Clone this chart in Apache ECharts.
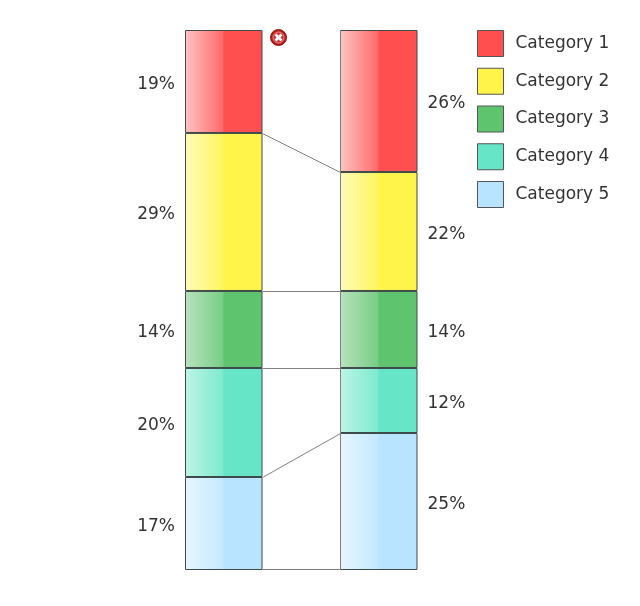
<!DOCTYPE html>
<html><head><meta charset="utf-8">
<style>html,body{margin:0;padding:0;background:#fff}#c{width:640px;height:606px}</style>
<script src="https://cdn.jsdelivr.net/npm/echarts@6/dist/echarts.min.js"></script>
</head><body><div id="c"></div>
<script>
const columns = ['Left', 'Right'];
const categories = ['Category 1', 'Category 2', 'Category 3', 'Category 4', 'Category 5'];
const leftValues = [19.07, 29.26, 14.26, 20.19, 17.22];
const rightValues = [26.30, 22.03, 14.26, 12.04, 25.37];
const colors = ['#FF4F4F', '#FFF44A', '#5EC46E', '#66E6C6', '#B8E4FF'];
const lightColors = ['#FFC4C4', '#FFFBB8', '#B8E2BE', '#BDF4E6', '#E6F6FF'];
const midColors = ['#FF6A6A', '#FFF560', '#78CE86', '#7EEACF', '#C4E9FF'];
const font = '"DejaVu Sans", Verdana, sans-serif';
const barWidth = 77.5;

const chart = echarts.init(document.getElementById('c'), null, {renderer: 'canvas'});
const series = categories.map((name, i) => ({
  name, type: 'bar', stack: 'total', barWidth, silent: true, z: 2,
  itemStyle: {
    borderColor: '#3f4a4a', borderWidth: 1,
    color: new echarts.graphic.LinearGradient(0, 0, 1, 0, [
      {offset: 0, color: lightColors[i]},
      {offset: 0.49, color: midColors[i]},
      {offset: 0.5, color: colors[i]},
      {offset: 1, color: colors[i]}
    ])
  },
  label: {show: true, fontFamily: font, fontSize: 17, color: '#333', distance: 10, offset: [0, 2.75],
    formatter: p => Math.round(p.value) + '%'},
  data: [
    {value: leftValues[i], label: {position: 'left'}},
    {value: rightValues[i], label: {position: 'right'}}
  ]
}));

// connectors between the two stacks, from cumulative values
const cumulative = categories.map((_, i) => [
  leftValues.slice(0, i + 1).reduce((a, b) => a + b, 0),
  rightValues.slice(0, i + 1).reduce((a, b) => a + b, 0)
]);
series.push({
  type: 'custom', silent: true, z: 3, coordinateSystem: 'cartesian2d',
  encode: {x: 0, y: 1},
  renderItem: (params, api) => {
    const half = barWidth / 2;
    const a = api.coord([0, api.value(0)]);
    const b = api.coord([1, api.value(1)]);
    const top = api.coord([1, 0]);
    const bottom = api.coord([1, 100]);
    const snap = y => Math.min(Math.round(y) + 0.5, bottom[1] - 0.5);
    const x1 = Math.floor(a[0] + half) + 0.5, x2 = Math.floor(b[0] - half) + 0.5;
    return {type: 'group', children: [
      {type: 'line', shape: {x1, y1: snap(a[1]), x2, y2: snap(b[1])},
        style: {stroke: '#808080', lineWidth: 1}},
      {type: 'line', shape: {x1: x2, y1: top[1], x2, y2: snap(b[1])},
        style: {stroke: '#808080', lineWidth: 1}}
    ]};
  },
  data: cumulative
});

chart.setOption({
  animation: false,
  backgroundColor: '#fff',
  grid: {left: 146.25, width: 310, top: 30, height: 540},
  xAxis: {type: 'category', data: columns, show: false},
  yAxis: {type: 'value', inverse: true, min: 0, max: 100, show: false},
  legend: {
    orient: 'vertical', left: 477, top: 30, padding: 0, itemWidth: 26, itemHeight: 26, itemGap: 10.75,
    selectedMode: false, icon: 'rect',
    textStyle: {fontFamily: font, fontSize: 17, color: '#333', padding: [0, 0, 6, 7]},
    data: categories.map((name, i) => ({name, itemStyle: {color: colors[i], borderColor: '#555', borderWidth: 1}}))
  },
  graphic: [{
    type: 'group', left: 270, top: 29, silent: true,
    children: [
      {type: 'circle', shape: {cx: 8, cy: 8, r: 8}, style: {fill: '#b81c1c', stroke: '#8e1414', lineWidth: 1}},
      {type: 'circle', shape: {cx: 8, cy: 8, r: 5.5}, style: {fill: '#d42f2f', stroke: '#eda8a8', lineWidth: 0.8}},
      {type: 'line', shape: {x1: 5, y1: 5, x2: 11, y2: 11}, style: {stroke: '#fff', lineWidth: 2.6}},
      {type: 'line', shape: {x1: 11, y1: 5, x2: 5, y2: 11}, style: {stroke: '#fff', lineWidth: 2.6}}
    ]
  }],
  series
});
</script></body></html>
